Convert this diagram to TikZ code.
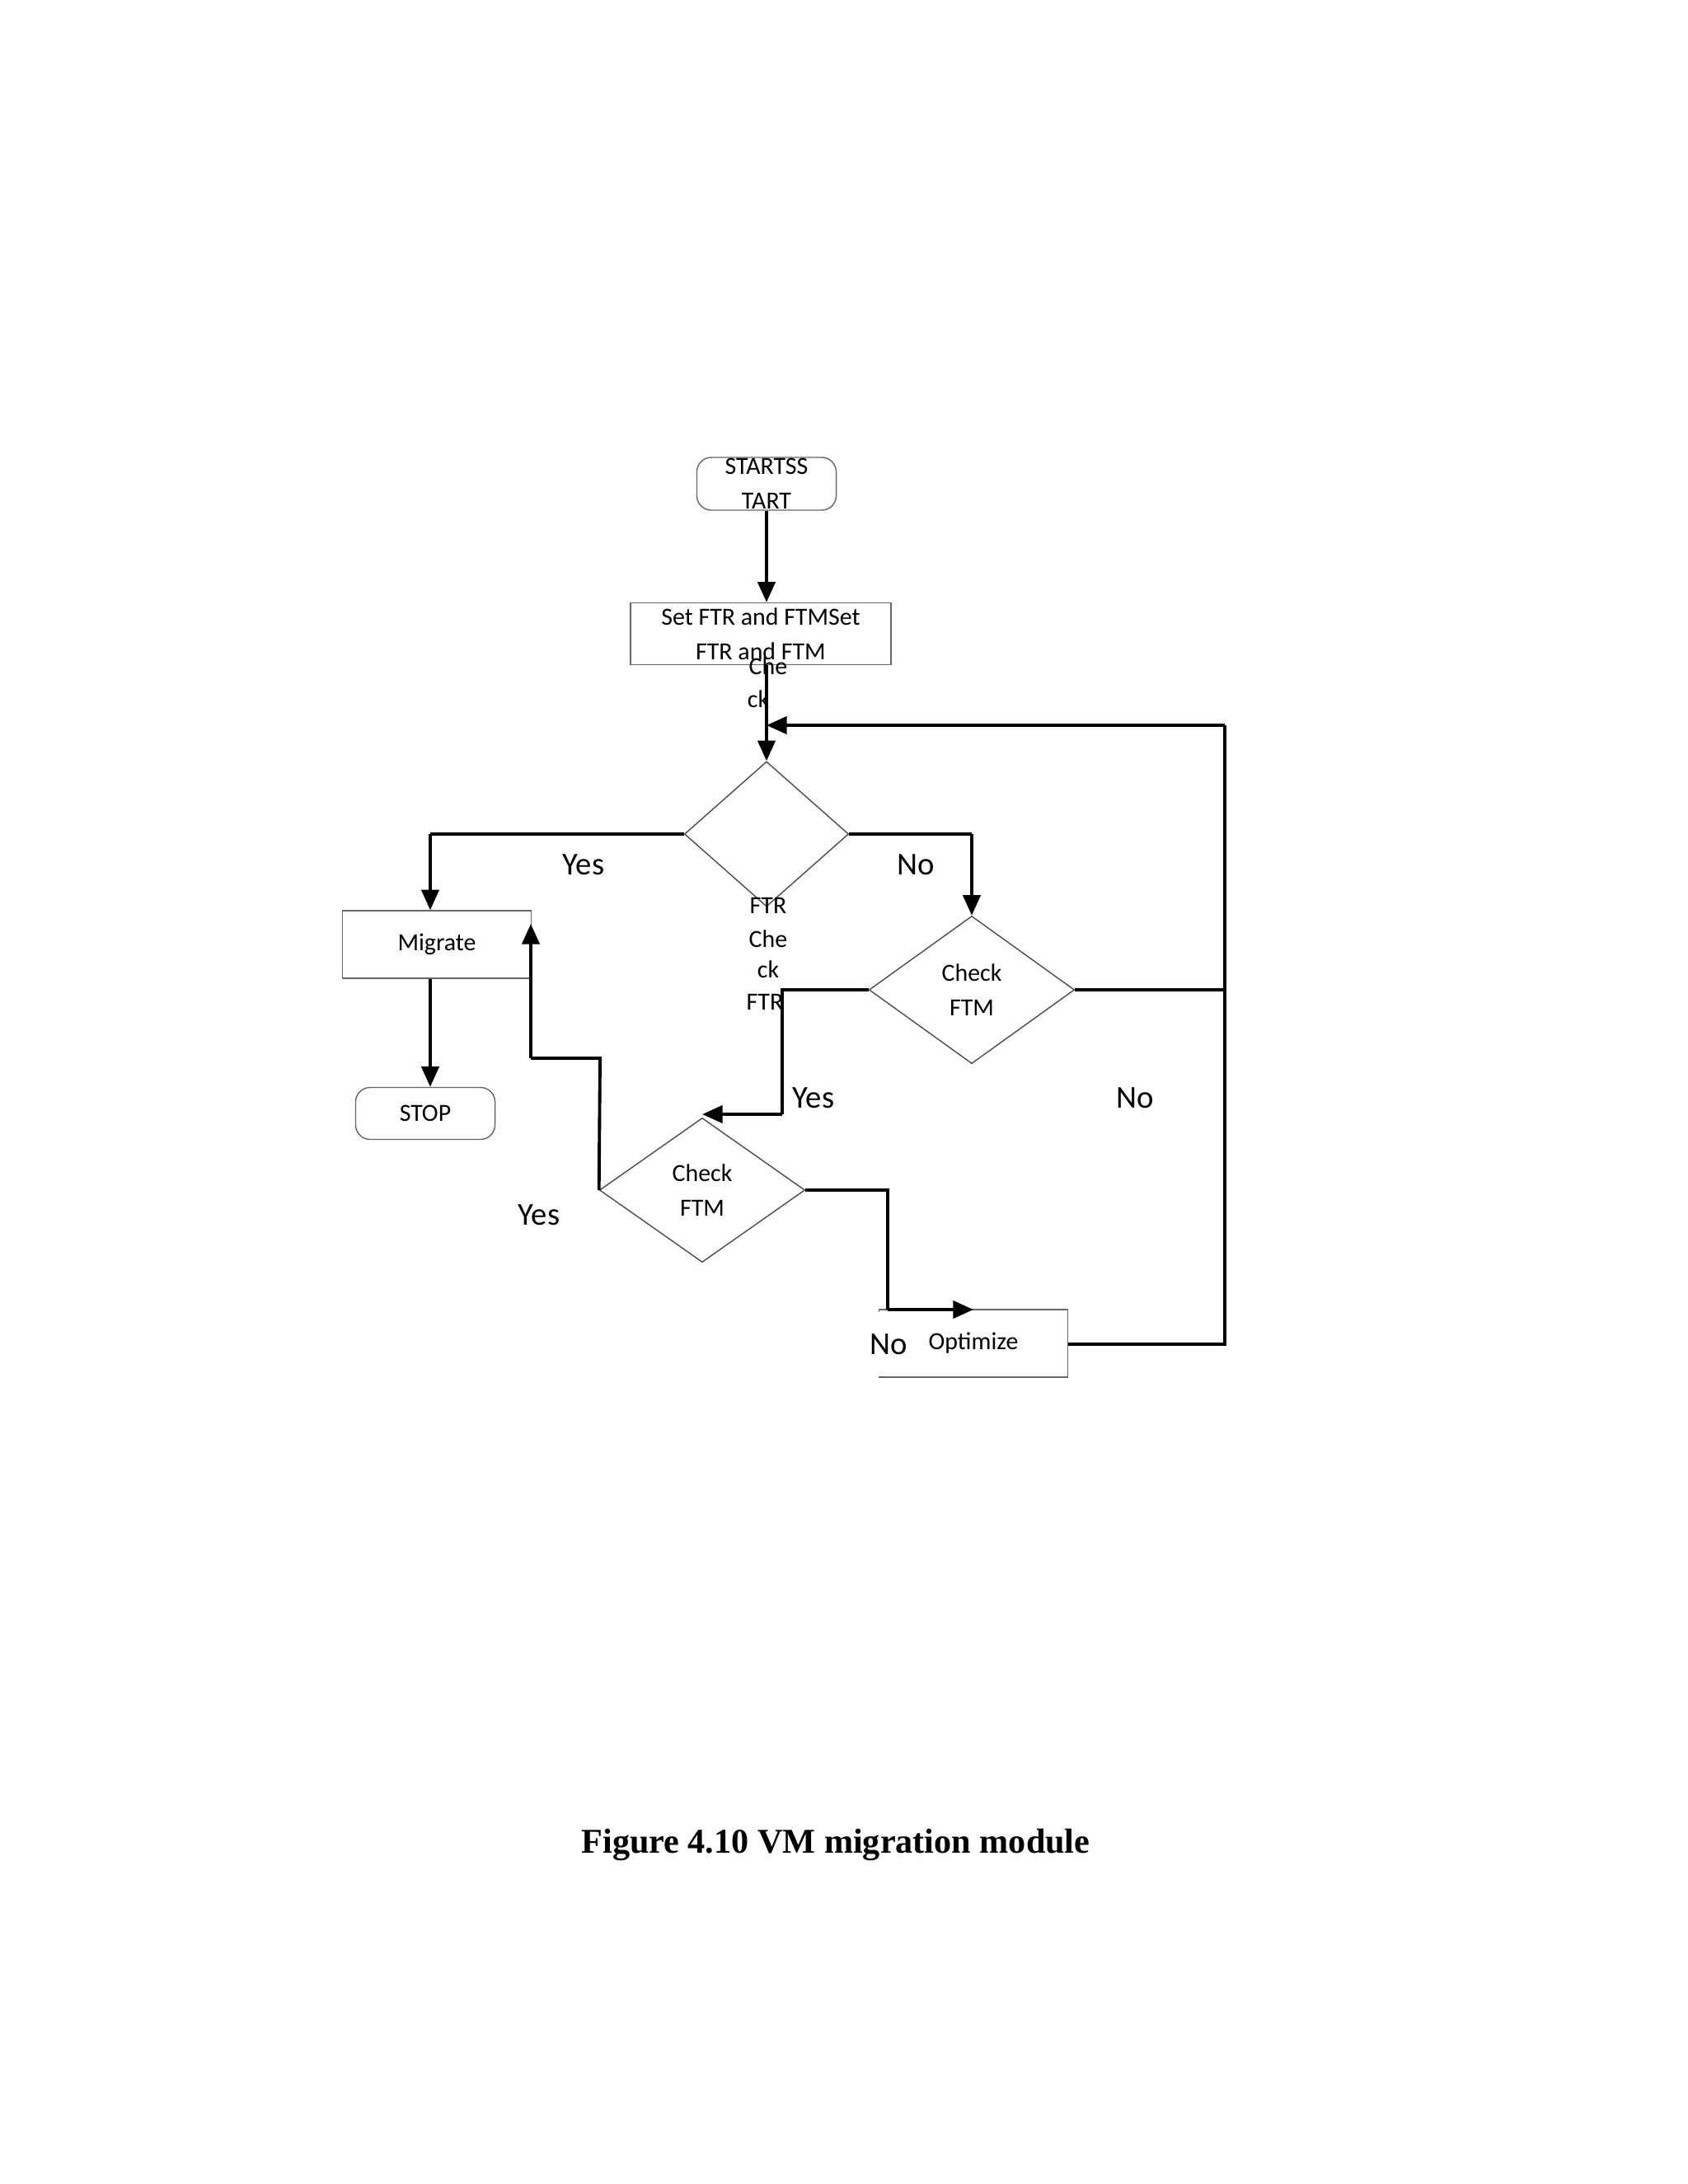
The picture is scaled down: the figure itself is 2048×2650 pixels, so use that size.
\documentclass[tikz,border=0pt]{standalone}
\usepackage{fontspec}
\setmainfont{Carlito}
\newfontfamily\capfont{Liberation Serif}
\usetikzlibrary{shapes.geometric,arrows.meta}
\begin{document}
\begin{tikzpicture}[x=0.01cm,y=-0.01cm,
  box/.style={draw=black!60,thin,inner sep=0pt,font=\fontsize{8.5}{11.8}\selectfont,align=center},
  dia/.style={draw=black!70,thin,diamond,inner sep=0pt,font=\fontsize{8.5}{11.8}\selectfont,align=center},
  lab/.style={font=\fontsize{11}{13}\selectfont},
  tiny/.style={font=\fontsize{8.5}{11.8}\selectfont,inner sep=0pt},
  ln/.style={line width=1.1pt},
  ar/.style={line width=1.1pt,-{Triangle[length=7pt,width=6pt]}}]
\useasboundingbox (0,0) rectangle (2048,2650);
\fill[white] (0,0) rectangle (2048,2650);

\begin{scope}[shift={(10,8)}]
% nodes
\node (start) [box,rounded corners=5pt,minimum width=1.69cm,minimum height=0.64cm] at (920,579) {STARTSS\\TART};
\node (set) [box,minimum width=3.16cm,minimum height=0.75cm] at (913,761) {Set FTR and FTMSet\\FTR and FTM};
\node (d1) [dia,minimum width=1.99cm,minimum height=1.76cm] at (920,1004) {};
\node (d2) [dia,minimum width=2.49cm,minimum height=1.79cm] at (1169,1193) {Check\\FTM};
\node (d3) [dia,minimum width=2.49cm,minimum height=1.75cm] at (842,1436) {Check\\FTM};
\node (mig) [box,minimum width=2.29cm,minimum height=0.82cm] at (520,1138) {Migrate};
\node (stop) [box,rounded corners=5pt,minimum width=1.69cm,minimum height=0.63cm] at (506,1343) {STOP};
\node (opt) [box,minimum width=2.29cm,minimum height=0.82cm] at (1171,1622) {Optimize};

% coordinates
\coordinate (loop) at (920,872);
\coordinate (rt) at (1476,872);
\coordinate (rm) at (1476,1193);
\coordinate (rb) at (1476,1623);
\coordinate (ya) at (512,1004);
\coordinate (na) at (1169,1004);
\coordinate (b2) at (939,1193);
\coordinate (b3) at (939,1344);
\coordinate (y3a) at (718,1276);
\coordinate (y3b) at (634,1276);
\coordinate (n3a) at (1067,1436);
\coordinate (n3b) at (1067,1581);

% connectors
\draw[ar] (start.south -| loop) -- (set.north -| loop);
\draw[ar] (set.south -| loop) -- (d1.north);
\draw[ar] (rt) -- (loop);
\draw[ln] (opt.east |- rb) -- (rb) -- (rt);
\draw[ln] (d2.east) -- (rm);
\draw[ln] (d1.west) -- (ya);
\draw[ar] (ya) -- (mig.north -| ya);
\draw[ln] (d1.east) -- (na);
\draw[ar] (na) -- (d2.north);
\draw[ar] (mig.south -| ya) -- (stop.north -| ya);
\draw[ln] (d2.west) -- (b2) -- (b3);
\draw[ar] (b3) -- (b3 -| d3.north);
\draw[ln] (d3.west) -- (y3a) -- (y3b);
\draw[ar] (y3b) -- (634,1113);
\draw[ln] (d3.east) -- (n3a) -- (n3b);
\draw[ar] (n3b) -- (n3b -| opt.north);

% labels
\node (l1) [lab] at (698,1041) {Yes};
\node (l2) [lab] at (1101,1041) {No};
\node (l3) [lab] at (977,1324) {Yes};
\node (l4) [lab] at (1367,1324) {No};
\node (l5) [lab] at (644,1466) {Yes};
\node (l6) [lab,fill=white,inner sep=2pt,minimum width=0.86cm,minimum height=0.78cm] at (1068,1623) {No};
\node (c1) [tiny] at (922,800) {Che};
\node (c2) [tiny] at (910,840) {ck};
\node (f1) [tiny] at (922,1091) {FTR};
\node (f2) [tiny] at (922,1131) {Che};
\node (f3) [tiny] at (922,1168) {ck};
\node (f4) [tiny] at (918,1208) {FTR};
\end{scope}
\node (cap) [font=\capfont\bfseries\fontsize{12}{14}\selectfont] at (1014,2238) {Figure 4.10 VM migration module};
\end{tikzpicture}
\end{document}
